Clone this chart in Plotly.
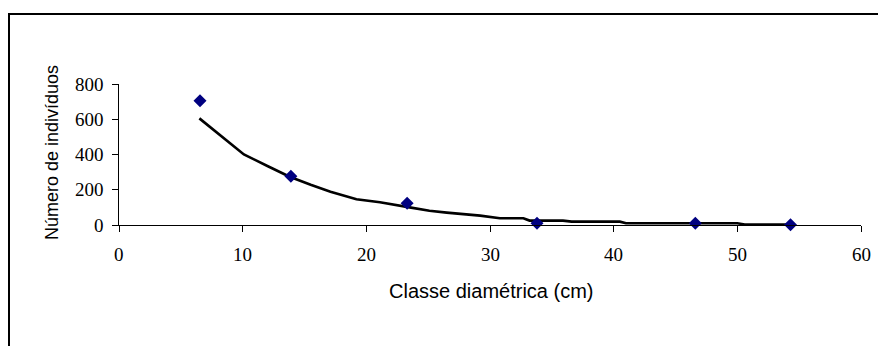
import plotly.graph_objects as go

# Observed data (diameter class midpoints, number of individuals)
classe_x = [6.55, 13.9, 23.3, 33.8, 46.6, 54.3]
individuos_y = [705, 276, 123, 10, 10, 2]

# Fitted trend line
curve_x = [6.5, 8.7, 10.1, 12.0, 13.8, 15.5, 17.1, 19.2, 21.1, 23.5, 25.1, 26.5,
           29.2, 30.8, 32.7, 33.2, 35.9, 36.6, 40.5, 41.0, 50.0, 50.6, 54.3]
curve_y = [605, 482, 400, 335, 274, 228, 189, 146, 129, 100, 81, 70,
           53, 38, 38, 25, 25, 19, 19, 10, 10, 3, 3]

x_ticks = [0, 10, 20, 30, 40, 50, 60]
y_ticks = [0, 200, 400, 600, 800]

OFF = 8  # page body margin
W, H = 886, 346
L, T = 119 - OFF, 84 - OFF
pw, ph = 742, 141
R = W - L - pw
B = H - T - ph

def px(sx):
    return (sx - OFF - L) / pw

def py(sy):
    return (T + ph - (sy - OFF)) / ph

serif = "Liberation Serif"
sans = "Liberation Sans"
tick_font = dict(family=serif, size=19, color="black")

fig = go.Figure()
fig.add_trace(go.Scatter(x=curve_x, y=curve_y, mode="lines",
                         line=dict(color="black", width=2.6), hoverinfo="skip",
                         showlegend=False))
fig.add_trace(go.Scatter(x=classe_x, y=individuos_y, mode="markers",
                         marker=dict(symbol="diamond", color="#000080", size=10,
                                     line=dict(width=0)),
                         showlegend=False, cliponaxis=False))

annotations = [
    dict(text="Classe diamétrica (cm)", xref="paper", yref="paper",
         x=px(491), y=py(291), xanchor="center", yanchor="middle",
         showarrow=False, font=dict(family=sans, size=20, color="black")),
    dict(text="Número de indivíduos", xref="paper", yref="paper",
         x=px(52), y=py(153), xanchor="center", yanchor="middle",
         textangle=-90, showarrow=False,
         font=dict(family=sans, size=18, color="black")),
]
for xv in x_ticks:
    annotations.append(dict(text=str(xv), xref="x", yref="paper", x=xv,
                            y=py(254), xanchor="center", yanchor="middle",
                            showarrow=False, font=tick_font))
for yv in y_ticks:
    annotations.append(dict(text=str(yv), xref="paper", yref="y", x=px(106),
                            y=yv, xanchor="right", yanchor="middle",
                            showarrow=False, font=tick_font))

fig.update_layout(
    width=W, height=H,
    margin=dict(l=L, r=R, t=T, b=B, pad=0),
    paper_bgcolor="white", plot_bgcolor="white",
    shapes=[dict(type="rect", xref="paper", yref="paper",
                 x0=px(9), x1=px(W + 40), y0=py(H + 40), y1=py(14),
                 line=dict(color="black", width=2), fillcolor="rgba(0,0,0,0)",
                 layer="below")],
    annotations=annotations,
)
fig.update_xaxes(range=[0, 60], tickmode="array", tickvals=x_ticks,
                 ticks="outside", ticklen=6, tickcolor="black",
                 showticklabels=False,
                 showline=True, linecolor="black", linewidth=1,
                 showgrid=False, zeroline=False)
fig.update_yaxes(range=[0, 800], tickmode="array", tickvals=y_ticks,
                 ticks="outside", ticklen=6, tickcolor="black",
                 showticklabels=False,
                 showline=True, linecolor="black", linewidth=1,
                 showgrid=False, zeroline=False)

fig.write_html("out.html")
